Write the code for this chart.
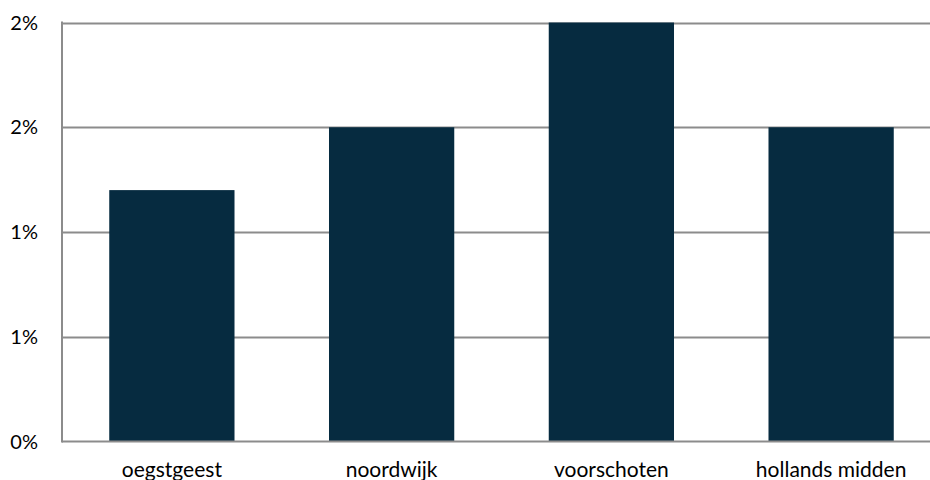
<!DOCTYPE html>
<html>
<head>
<meta charset="utf-8">
<script src="https://cdn.jsdelivr.net/npm/d3@7"></script>
<style>
  body { margin: 0; background: #fff; }
  text { font-family: Lato, "Open Sans", sans-serif; fill: #000; }
</style>
</head>
<body>
<div id="chart"></div>
<script>
var categories = ["oegstgeest", "noordwijk", "voorschoten", "hollands midden"];
var values = [0.012, 0.015, 0.02, 0.015];
var tickValues = [0, 0.005, 0.01, 0.015, 0.02];
var tickLabels = ["0%", "1%", "1%", "2%", "2%"];

var width = 930,
  height = 480;
var plot = { left: 62, right: 941, top: 22.5, bottom: 441.5 };

var svg = d3
  .select("#chart")
  .append("svg")
  .attr("width", width)
  .attr("height", height);

var x = d3
  .scaleBand()
  .domain(categories)
  .range([plot.left, plot.right])
  .paddingInner(0.43)
  .paddingOuter(0.215);

var y = d3
  .scaleLinear()
  .domain([0, 0.02])
  .range([plot.bottom, plot.top]);

// gridlines
svg
  .append("g")
  .selectAll("line")
  .data(tickValues.slice(1))
  .enter()
  .append("line")
  .attr("x1", plot.left)
  .attr("x2", width)
  .attr("y1", function (d) { return Math.round(y(d)) + 0.5; })
  .attr("y2", function (d) { return Math.round(y(d)) + 0.5; })
  .attr("stroke", "#8c8c8c")
  .attr("stroke-width", 2);

// bars
svg
  .append("g")
  .selectAll("rect")
  .data(values)
  .enter()
  .append("rect")
  .attr("x", function (d, i) { return x(categories[i]); })
  .attr("width", x.bandwidth())
  .attr("y", function (d) { return y(d); })
  .attr("height", function (d) { return y(0) - y(d); })
  .attr("fill", "#062b40");

// axes lines
svg
  .append("line")
  .attr("x1", plot.left)
  .attr("x2", plot.left)
  .attr("y1", plot.top - 1)
  .attr("y2", plot.bottom + 1)
  .attr("stroke", "#8c8c8c")
  .attr("stroke-width", 2);
svg
  .append("line")
  .attr("x1", plot.left)
  .attr("x2", width)
  .attr("y1", plot.bottom)
  .attr("y2", plot.bottom)
  .attr("stroke", "#8c8c8c")
  .attr("stroke-width", 2);

// y tick labels
svg
  .append("g")
  .selectAll("text")
  .data(tickValues)
  .enter()
  .append("text")
  .attr("x", 38)
  .attr("y", function (d) { return y(d); })
  .attr("dy", "0.35em")
  .attr("text-anchor", "end")
  .attr("font-size", 20)
  .text(function (d, i) { return tickLabels[i]; });

// category labels
svg
  .append("g")
  .selectAll("text")
  .data(categories)
  .enter()
  .append("text")
  .attr("x", function (d) { return x(d) + x.bandwidth() / 2; })
  .attr("y", 477)
  .attr("text-anchor", "middle")
  .attr("font-size", 21)
  .text(function (d) { return d; });
</script>
</body>
</html>
